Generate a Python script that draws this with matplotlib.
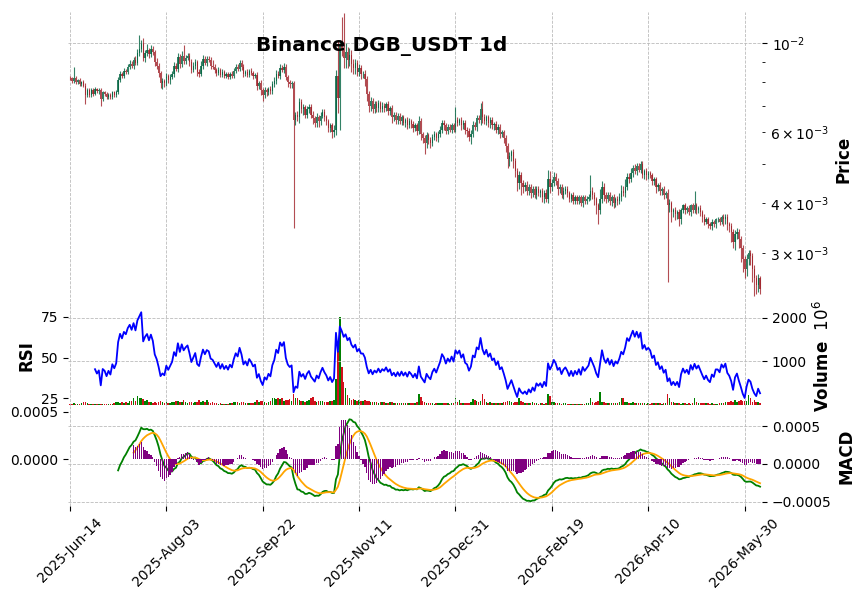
import numpy as np
import pandas as pd
import matplotlib
matplotlib.use('Agg')
import matplotlib.pyplot as plt
from matplotlib.ticker import FixedLocator, FuncFormatter

# DGB/USDT daily candles, prices in units of 1e-6 USDT
start_date = '2025-06-14'
first_open = 8200
closes = [
    8180, 8050, 8200, 8000, 8100, 7900, 8000, 7850, 7450, 7650,
    7450, 7650, 7500, 7700, 7600, 7650, 7250, 7550, 7500, 7350,
    7450, 7350, 7550, 7450, 7550, 8100, 8400, 8300, 8550, 8500,
    8750, 8900, 8800, 9100, 8950, 9450, 9700, 10000, 9200, 9450,
    9600, 9400, 9700, 9500, 9000, 8800, 8450, 7950, 8050, 7950,
    8300, 8100, 8250, 8400, 8800, 8650, 9250, 8900, 9300, 9050,
    9200, 9300, 9000, 8600, 8800, 9000, 8500, 8400, 8800, 9150,
    8950, 9150, 9100, 8800, 8750, 8600, 8450, 8600, 8350, 8500,
    8300, 8400, 8250, 8400, 8300, 8550, 8750, 8650, 8950, 8750,
    8400, 8500, 8350, 8550, 8450, 8300, 8350, 7850, 7950, 7650,
    7450, 7650, 7550, 7700, 7600, 7900, 8050, 8400, 8300, 8700,
    8600, 8750, 8250, 8000, 7900, 7950, 6450, 6650, 6550, 7150,
    6850, 6950, 6650, 6850, 6950, 6650, 6500, 6350, 6550, 6400,
    6600, 6750, 6550, 6400, 6150, 6250, 6000, 6100, 8300, 7300,
    9900, 9600, 9200, 9500, 9100, 9350, 8900, 8700, 8950, 8500,
    8700, 8400, 8400, 8150, 7500, 7000, 7200, 6850, 7050, 6900,
    7100, 6850, 7000, 6900, 7050, 6800, 6900, 6550, 6650, 6450,
    6600, 6400, 6550, 6350, 6450, 6250, 6400, 6300, 6150, 6250,
    6050, 6400, 5950, 5800, 5650, 5900, 5750, 5650, 5850, 5950,
    5800, 5950, 6100, 6350, 6250, 6050, 6200, 6100, 6250, 6100,
    6450, 6350, 6450, 6250, 6350, 6100, 6050, 5850, 5950, 6250,
    6200, 6500, 6450, 6850, 6550, 6400, 6550, 6350, 6450, 6250,
    6300, 6100, 6200, 5950, 6000, 5800, 5550, 5150, 5250, 5350,
    5100, 4800, 4500, 4700, 4500, 4400, 4450, 4300, 4400, 4250,
    4350, 4200, 4350, 4250, 4300, 4150, 4250, 4100, 4600, 4400,
    4500, 4650, 4550, 4350, 4400, 4200, 4300, 4350, 4250, 4100,
    4200, 4050, 4150, 4050, 4150, 4000, 4150, 4050, 4100, 4150,
    4300, 4200, 4100, 3950, 3850, 4100, 4400, 4200, 4100, 4200,
    4050, 4150, 4000, 4100, 4050, 4150, 4300, 4250, 4400, 4650,
    4600, 4750, 4900, 4800, 4950, 4850, 5000, 4700, 4800, 4700,
    4750, 4700, 4550, 4600, 4400, 4450, 4300, 4350, 4200, 4250,
    3950, 4000, 3800, 3850, 3750, 3800, 3650, 3850, 3950, 3850,
    3900, 3800, 3950, 3850, 3950, 3850, 3900, 3800, 3700, 3600,
    3650, 3550, 3500, 3600, 3550, 3650, 3650, 3600, 3700, 3650,
    3700, 3550, 3500, 3400, 3200, 3350, 3400, 3250, 3100, 2900,
    2750, 2900, 3000, 2950, 2750, 2600, 2500, 2600, 2450,
]
# wick lengths above / below the candle body, same units
up_wick = [
    80, 60, 550, 70, 60, 80, 50, 90, 120, 100,
    80, 90, 70, 100, 60, 80, 90, 70, 60, 80,
    70, 60, 80, 70, 90, 150, 120, 100, 150, 100,
    120, 200, 150, 150, 200, 250, 800, 200, 300, 150,
    350, 150, 200, 150, 150, 200, 150, 100, 150, 120,
    150, 100, 120, 150, 200, 150, 200, 150, 250, 600,
    150, 150, 150, 120, 200, 150, 100, 150, 250, 200,
    150, 150, 150, 150, 300, 120, 100, 150, 100, 120,
    100, 90, 100, 80, 120, 150, 120, 150, 150, 150,
    120, 100, 150, 100, 120, 100, 80, 120, 100, 150,
    100, 120, 100, 90, 120, 150, 200, 200, 150, 200,
    150, 200, 150, 100, 100, 120, 100, 100, 120, 150,
    100, 120, 80, 150, 120, 100, 120, 80, 150, 100,
    150, 120, 100, 100, 80, 100, 80, 150, 300, 1900,
    300, 1700, 2300, 500, 300, 400, 300, 250, 200, 150,
    200, 150, 150, 200, 150, 120, 150, 100, 150, 120,
    120, 100, 150, 120, 100, 150, 100, 120, 100, 80,
    100, 120, 80, 100, 80, 100, 120, 80, 100, 80,
    100, 200, 100, 80, 100, 120, 80, 100, 80, 100,
    80, 100, 120, 100, 80, 100, 80, 100, 80, 90,
    500, 100, 80, 100, 80, 100, 80, 90, 120, 150,
    120, 150, 150, 250, 350, 120, 100, 80, 100, 90,
    80, 90, 80, 90, 80, 100, 120, 100, 120, 90,
    100, 80, 100, 120, 80, 70, 60, 80, 60, 70,
    60, 70, 60, 70, 50, 60, 60, 80, 250, 200,
    100, 120, 100, 80, 60, 70, 80, 60, 70, 50,
    50, 60, 40, 50, 40, 50, 40, 50, 60, 70,
    400, 80, 60, 50, 60, 250, 150, 80, 70, 60,
    60, 50, 60, 50, 60, 80, 150, 120, 200, 100,
    100, 150, 80, 100, 80, 100, 80, 90, 70, 80,
    60, 70, 60, 50, 60, 50, 60, 50, 60, 50,
    80, 100, 60, 50, 60, 50, 60, 50, 40, 50,
    40, 50, 40, 60, 350, 50, 40, 50, 40, 50,
    40, 50, 40, 50, 40, 30, 40, 50, 40, 50,
    50, 60, 50, 60, 40, 80, 60, 50, 60, 40,
    60, 80, 50, 60, 50, 60, 50, 60, 40,
]
dn_wick = [
    60, 80, 70, 60, 80, 70, 90, 80, 400, 100,
    90, 80, 100, 80, 90, 100, 250, 80, 90, 100,
    100, 80, 90, 80, 100, 80, 100, 120, 100, 90,
    100, 120, 100, 150, 120, 100, 150, 200, 150, 200,
    150, 200, 150, 150, 200, 150, 200, 200, 250, 150,
    100, 150, 200, 100, 150, 120, 150, 200, 150, 150,
    150, 120, 200, 150, 100, 150, 200, 150, 100, 150,
    120, 150, 100, 150, 120, 150, 150, 100, 120, 100,
    120, 100, 120, 100, 100, 120, 100, 120, 100, 150,
    150, 100, 120, 100, 120, 150, 120, 200, 150, 200,
    250, 150, 150, 100, 120, 120, 100, 120, 100, 150,
    120, 150, 150, 200, 150, 150, 2980, 200, 150, 200,
    150, 200, 150, 120, 150, 150, 200, 150, 150, 200,
    150, 100, 150, 150, 150, 150, 200, 150, 200, 600,
    1200, 300, 500, 500, 400, 300, 400, 300, 300, 200,
    200, 250, 200, 300, 300, 250, 200, 150, 150, 150,
    150, 120, 120, 150, 120, 150, 150, 200, 150, 150,
    150, 120, 150, 100, 150, 120, 100, 150, 120, 100,
    150, 120, 200, 150, 350, 150, 120, 150, 100, 120,
    100, 120, 100, 120, 150, 100, 120, 100, 120, 100,
    100, 120, 100, 150, 120, 150, 200, 150, 250, 100,
    120, 150, 100, 200, 200, 120, 150, 150, 200, 120,
    150, 120, 150, 150, 120, 150, 200, 250, 200, 150,
    200, 150, 200, 150, 300, 150, 100, 120, 100, 120,
    100, 80, 100, 80, 100, 120, 150, 80, 100, 150,
    100, 80, 100, 150, 100, 80, 100, 80, 100, 80,
    80, 60, 80, 60, 80, 60, 80, 60, 80, 60,
    80, 100, 150, 200, 300, 100, 100, 150, 100, 80,
    100, 120, 100, 80, 100, 80, 100, 80, 100, 80,
    100, 80, 100, 80, 100, 80, 100, 80, 100, 120,
    100, 80, 120, 100, 150, 100, 120, 100, 100, 80,
    1400, 150, 200, 100, 120, 100, 150, 100, 80, 100,
    80, 60, 80, 60, 80, 100, 60, 80, 100, 80,
    60, 80, 60, 80, 60, 80, 60, 80, 60, 150,
    100, 120, 100, 200, 100, 150, 100, 150, 250, 200,
    150, 120, 100, 150, 200, 250, 120, 100, 80,
]
# daily volume, millions of DGB
volume_m = [
    30, 25, 45, 30, 25, 30, 35, 60, 75, 40,
    30, 25, 20, 15, 15, 12, 20, 15, 12, 10,
    12, 15, 12, 40, 60, 70, 50, 60, 55, 60,
    50, 90, 80, 150, 90, 210, 170, 160, 130, 80,
    110, 70, 60, 50, 60, 55, 70, 80, 60, 50,
    60, 45, 50, 60, 70, 80, 90, 70, 60, 110,
    60, 50, 70, 60, 50, 60, 70, 110, 60, 80,
    70, 110, 60, 50, 60, 40, 35, 30, 40, 30,
    25, 30, 25, 40, 50, 60, 70, 60, 50, 60,
    70, 50, 40, 40, 35, 50, 60, 110, 70, 90,
    80, 60, 50, 60, 80, 150, 150, 140, 150, 130,
    150, 90, 110, 120, 130, 100, 260, 150, 160, 110,
    90, 80, 70, 100, 120, 150, 190, 90, 70, 80,
    90, 80, 70, 60, 70, 90, 100, 110, 600, 1250,
    2030, 870, 530, 400, 230, 150, 120, 130, 110, 100,
    120, 90, 100, 110, 90, 80, 70, 60, 70, 60,
    50, 60, 70, 60, 50, 45, 60, 70, 50, 40,
    45, 40, 50, 40, 35, 40, 45, 40, 35, 50,
    60, 240, 190, 90, 70, 50, 40, 35, 40, 30,
    35, 40, 45, 50, 40, 35, 40, 30, 35, 50,
    150, 60, 110, 50, 40, 45, 40, 35, 60, 135,
    110, 90, 70, 100, 240, 135, 75, 50, 60, 45,
    40, 35, 45, 50, 45, 60, 70, 90, 90, 60,
    50, 60, 70, 150, 80, 60, 50, 45, 40, 35,
    75, 40, 35, 30, 40, 35, 30, 35, 240, 210,
    75, 60, 50, 40, 35, 30, 40, 35, 30, 25,
    25, 30, 25, 30, 25, 30, 25, 30, 35, 40,
    150, 60, 50, 70, 80, 300, 75, 60, 50, 40,
    45, 40, 35, 40, 50, 60, 150, 150, 75, 60,
    55, 50, 60, 45, 40, 50, 45, 40, 35, 30,
    35, 30, 40, 45, 50, 40, 35, 30, 40, 45,
    240, 150, 60, 75, 50, 40, 35, 30, 40, 35,
    30, 35, 30, 40, 150, 60, 45, 40, 50, 45,
    40, 35, 30, 35, 30, 25, 30, 35, 40, 50,
    60, 75, 75, 80, 60, 110, 75, 90, 110, 80,
    100, 90, 230, 150, 75, 120, 60, 70, 50,
]

n = len(closes)
dates = pd.date_range(start_date, periods=n, freq='D')
close = np.array(closes) * 1e-6
opn = np.r_[first_open, closes[:-1]] * 1e-6
high = np.maximum(opn, close) + np.array(up_wick) * 1e-6
low = np.minimum(opn, close) - np.array(dn_wick) * 1e-6
vol = np.array(volume_m, dtype=float)

# indicators: RSI(14), MACD(12, 26, 9)
s = pd.Series(close)
delta = s.diff()
gain = delta.clip(lower=0).fillna(0)
loss = (-delta).clip(lower=0).fillna(0)
avg_gain = gain.ewm(alpha=1/14, min_periods=14, adjust=False).mean()
avg_loss = loss.ewm(alpha=1/14, min_periods=14, adjust=False).mean()
rsi = 100 - 100 / (1 + avg_gain / avg_loss)

ema12 = s.ewm(span=12, min_periods=12, adjust=False).mean()
ema26 = s.ewm(span=26, min_periods=26, adjust=False).mean()
macd = ema12 - ema26
signal = macd.ewm(span=9, min_periods=9, adjust=False).mean()
hist = macd - signal

x = np.arange(n)
up = close >= opn
candle_col = np.where(up, '#006340', '#A02128')
vol_col = np.where(up, '#008000', '#d0101c')

fig = plt.figure(figsize=(8.65, 6.0), dpi=100)
L, W = 68 / 865, 694 / 865
ax0 = fig.add_axes([L, 0.49, W, 0.49])
ax1 = fig.add_axes([L, 0.3233, W, 0.1667], sharex=ax0)
ax2 = fig.add_axes([L, 0.1567, W, 0.1667], sharex=ax0)
ax1b = ax1.twinx()
ax2b = ax2.twinx()

grid_kw = dict(color='#bbbbbb', linestyle='--', linewidth=0.6)

# price panel
ax0.vlines(x, low, high, colors=candle_col, linewidth=0.8, alpha=0.8)
ax0.bar(x, np.abs(close - opn), bottom=np.minimum(opn, close), width=0.65,
        color=candle_col, alpha=0.8)
ax0.set_yscale('log')
ax0.set_ylim(0.002218, 0.01197)
ax0.yaxis.tick_right()
ax0.yaxis.set_label_position('right')
ax0.set_ylabel('Price', fontsize=12, fontweight='bold')

# volume + RSI panel
ax1.bar(x, vol, width=0.8, color=vol_col)
ax1.set_ylim(-25, 2275)
ax1.yaxis.set_major_locator(FixedLocator([1000, 2000]))
ax1.yaxis.tick_right()
ax1.yaxis.set_label_position('right')
ax1.set_ylabel('Volume  $10^{6}$', fontsize=12, fontweight='bold')
ax1b.plot(x, rsi, color='blue', linewidth=1.3)
ax1b.set_ylim(20.3, 81.6)
ax1b.yaxis.set_major_locator(FixedLocator([25, 50, 75]))
ax1b.yaxis.tick_left()
ax1b.yaxis.set_label_position('left')
ax1b.set_ylabel('RSI', fontsize=12, fontweight='bold')

# MACD panel
ax2.plot(x, macd, color='green', linewidth=1.3)
ax2.plot(x, signal, color='orange', linewidth=1.3)
ax2.set_ylim(-0.000555, 0.000766)
ax2.yaxis.set_major_locator(FixedLocator([-0.0005, 0.0, 0.0005]))
ax2.yaxis.tick_right()
ax2.yaxis.set_label_position('right')
ax2.set_ylabel('MACD', fontsize=12, fontweight='bold')
ax2b.bar(x, hist, width=0.7, color='purple')
ax2b.set_ylim(-0.00049, 0.00056)
ax2b.yaxis.set_major_locator(FixedLocator([0.0, 0.0005]))
ax2b.yaxis.tick_left()

fmt4 = FuncFormatter(lambda v, p: ('%.4f' % v).replace('-', '\u2212'))
ax2.yaxis.set_major_formatter(fmt4)
ax2b.yaxis.set_major_formatter(fmt4)

ax0.set_xlim(-1, n)
ticks = np.arange(0, n, 50)
ax2.xaxis.set_major_locator(FixedLocator(ticks))
ax2.xaxis.set_major_formatter(
    FuncFormatter(lambda v, p: dates[int(v)].strftime('%Y-%b-%d') if 0 <= int(v) < n else ''))

for ax in (ax0, ax1, ax2):
    ax.grid(True, **grid_kw)
for ax in (ax0, ax1, ax1b, ax2, ax2b):
    for sp in ax.spines.values():
        sp.set_visible(False)
    ax.tick_params(labelsize=10)
for ax in (ax0, ax1, ax1b, ax2b):
    ax.tick_params(axis='x', labelbottom=False, length=0)
ax2.tick_params(axis='x', labelrotation=45)

fig.text(0.441, 0.923, 'Binance DGB_USDT 1d', fontsize=14.4, fontweight='bold',
         ha='center', va='center')

fig.savefig('out.png', dpi=100)
